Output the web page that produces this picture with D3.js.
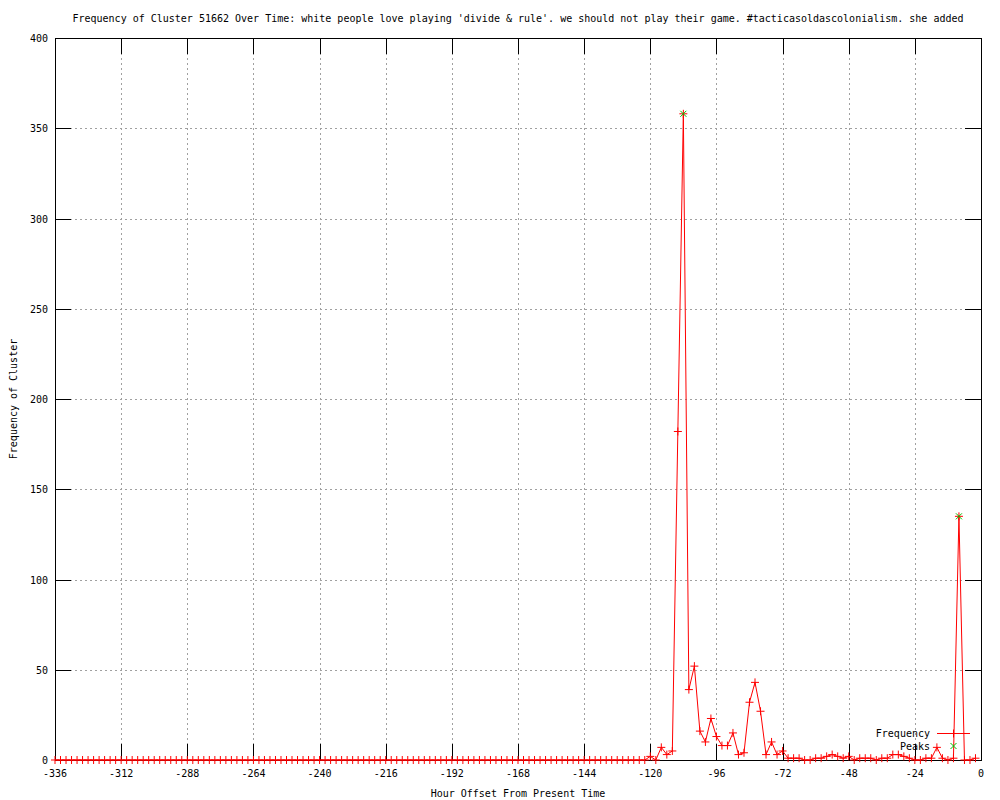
<!DOCTYPE html>
<html>
<head>
<meta charset="utf-8">
<script src="https://cdn.jsdelivr.net/npm/d3@7"></script>
<style>
  html, body { margin: 0; padding: 0; background: #fff; }
  text { font-family: "DejaVu Sans Mono", "Liberation Mono", monospace; font-size: 10px; fill: #000; }
</style>
</head>
<body>
<svg id="chart" width="1000" height="800"></svg>
<script>
// ---- data ----
const titleText = "Frequency of Cluster 51662 Over Time: white people love playing 'divide & rule'. we should not play their game. #tacticasoldascolonialism. she added";
const xLabel = "Hour Offset From Present Time";
const yLabel = "Frequency of Cluster";

// hour offsets of the samples (every 2 hours)
const hours = d3.range(-336, 0, 2);
// frequency per sample, -336 ... -2
const freq = [
  0,0,0,0,0,0,0,0,0,0,0,0,   // -336 .. -314
  0,0,0,0,0,0,0,0,0,0,0,0,   // -312 .. -290
  0,0,0,0,0,0,0,0,0,0,0,0,   // -288 .. -266
  0,0,0,0,0,0,0,0,0,0,0,0,   // -264 .. -242
  0,0,0,0,0,0,0,0,0,0,0,0,   // -240 .. -218
  0,0,0,0,0,0,0,0,0,0,0,0,   // -216 .. -194
  0,0,0,0,0,0,0,0,0,0,0,0,   // -192 .. -170
  0,0,0,0,0,0,0,0,0,0,0,0,   // -168 .. -146
  0,0,0,0,0,0,0,0,0,0,0,0,   // -144 .. -122
  2,0,7,3,5,182,358,39,52,16,10,23,   // -120 .. -98
  13,8,8,15,3,4,32,43,27,3,10,3,      // -96 .. -74
  5,1,1,1,0,0,1,1,2,3,2,1,            // -72 .. -50
  2,0,1,1,1,0,1,1,3,3,2,1,            // -48 .. -26
  0,0,1,1,7,1,0,1,135,0,0,1           // -24 .. -2
];
const peakHours = [-108, -8];
const peakValues = [358, 135];

const xTicks = [-336,-312,-288,-264,-240,-216,-192,-168,-144,-120,-96,-72,-48,-24,0];
const yTicks = [0,50,100,150,200,250,300,350,400];

// ---- layout ----
const L = 55, R = 981, T = 38, B = 760;
const svg = d3.select("#chart");
const x = d3.scaleLinear().domain([-336, 0]).range([L, R]);
const y = d3.scaleLinear().domain([0, 400]).range([B, T]);

const RED = "#ff0000", GREEN = "#00c000";

// grid
const grid = svg.append("g").attr("shape-rendering", "crispEdges")
  .attr("stroke", "#a0a0a0").attr("stroke-dasharray", "2,3").attr("stroke-width", 1);
grid.selectAll(".gx").data(xTicks.slice(1, -1)).enter().append("line")
  .attr("x1", d => Math.round(x(d)) + 0.5).attr("x2", d => Math.round(x(d)) + 0.5)
  .attr("y1", T).attr("y2", B);
grid.selectAll(".gy").data(yTicks.slice(1, -1)).enter().append("line")
  .attr("y1", d => Math.round(y(d)) + 0.5).attr("y2", d => Math.round(y(d)) + 0.5)
  .attr("x1", L).attr("x2", R);

// axes with inward ticks on all four sides
const TL = 16;
const ax = svg.append("g").attr("shape-rendering", "crispEdges").attr("stroke", "#000").attr("stroke-width", 1);
xTicks.forEach(d => {
  const px = Math.round(x(d)) + 0.5;
  ax.append("line").attr("x1", px).attr("x2", px).attr("y1", B).attr("y2", B - TL);
  ax.append("line").attr("x1", px).attr("x2", px).attr("y1", T).attr("y2", T + TL);
});
yTicks.forEach(d => {
  const py = Math.round(y(d)) + 0.5;
  ax.append("line").attr("x1", L).attr("x2", L + TL).attr("y1", py).attr("y2", py);
  ax.append("line").attr("x1", R).attr("x2", R - TL).attr("y1", py).attr("y2", py);
});
ax.append("rect").attr("x", L + 0.5).attr("y", T + 0.5).attr("width", R - L).attr("height", B - T)
  .attr("fill", "none");

// tick labels
svg.append("g").selectAll("text").data(xTicks).enter().append("text")
  .attr("x", d => x(d)).attr("y", 777).attr("text-anchor", "middle").text(d => d === 0 ? "0" : "\u2212".replace("\u2212","-") + Math.abs(d));
svg.append("g").selectAll("text").data(yTicks).enter().append("text")
  .attr("x", 48).attr("y", d => y(d) + 4).attr("text-anchor", "end").text(d => d);

// titles
svg.append("text").attr("x", (L + R) / 2).attr("y", 22).attr("text-anchor", "middle").text(titleText);
svg.append("text").attr("x", (L + R) / 2).attr("y", 797).attr("text-anchor", "middle").text(xLabel);
svg.append("text").attr("transform", "translate(17," + ((T + B) / 2) + ") rotate(-90)")
  .attr("text-anchor", "middle").text(yLabel);

// frequency line
const pts = hours.map((h, i) => [h, freq[i]]);
const line = d3.line().x(d => x(d[0])).y(d => y(d[1]));
svg.append("path").datum(pts).attr("d", line).attr("fill", "none").attr("stroke", RED).attr("stroke-width", 1);

function plus(g, cx, cy, color) {
  g.append("path").attr("d", `M${cx-4},${cy}H${cx+4}M${cx},${cy-4}V${cy+4}`)
    .attr("stroke", color).attr("stroke-width", 1).attr("fill", "none");
}
function cross(g, cx, cy, color) {
  g.append("path").attr("d", `M${cx-3},${cy-3}L${cx+3},${cy+3}M${cx-3},${cy+3}L${cx+3},${cy-3}`)
    .attr("stroke", color).attr("stroke-width", 1).attr("fill", "none");
}
const mk = svg.append("g");
pts.forEach(d => plus(mk, x(d[0]), y(d[1]), RED));

// peaks
const pk = svg.append("g");
peakHours.forEach((h, i) => cross(pk, x(h), y(peakValues[i]), GREEN));

// legend
svg.append("text").attr("x", 930).attr("y", 737).attr("text-anchor", "end").text("Frequency");
svg.append("line").attr("x1", 937).attr("x2", 970).attr("y1", 733.5).attr("y2", 733.5).attr("stroke", RED);
plus(svg, 953.5, 733.5, RED);
svg.append("text").attr("x", 930).attr("y", 750).attr("text-anchor", "end").text("Peaks");
cross(svg, 953.5, 746, GREEN);
</script>
</body>
</html>
